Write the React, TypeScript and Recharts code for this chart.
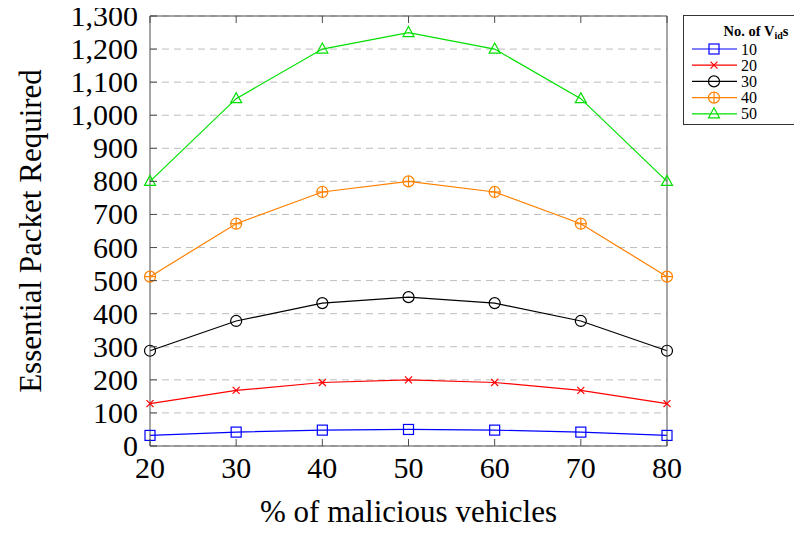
import React from 'react';
import {
    LineChart,
    Line,
    XAxis,
    YAxis,
    CartesianGrid
} from 'recharts';

const percents = [20, 30, 40, 50, 60, 70, 80];
const vid10 = [32, 42, 48, 50, 48, 42, 32];
const vid20 = [128, 168, 192, 200, 192, 168, 128];
const vid30 = [288, 378, 432, 450, 432, 378, 288];
const vid40 = [512, 672, 768, 800, 768, 672, 512];
const vid50 = [800, 1050, 1200, 1250, 1200, 1050, 800];
const yTicks = [0, 100, 200, 300, 400, 500, 600, 700, 800, 900, 1000, 1100, 1200, 1300];

const chartData = percents.map((p, i) => ({
    p,
    v10: vid10[i],
    v20: vid20[i],
    v30: vid30[i],
    v40: vid40[i],
    v50: vid50[i],
}));

const FONT = '"Liberation Serif", "DejaVu Serif", serif';
const AXIS = '#4d4d4d';

type Kind = 'square' | 'cross' | 'circle' | 'oplus' | 'triangle';

const series: { key: string; name: string; color: string; kind: Kind }[] = [
    { key: 'v10', name: '10', color: '#0000ff', kind: 'square' },
    { key: 'v20', name: '20', color: '#ff0000', kind: 'cross' },
    { key: 'v30', name: '30', color: '#000000', kind: 'circle' },
    { key: 'v40', name: '40', color: '#ff8000', kind: 'oplus' },
    { key: 'v50', name: '50', color: '#00e000', kind: 'triangle' },
];

const Marker = ({ cx, cy, color, kind }: { cx: number; cy: number; color: string; kind: Kind }) => {
    const sw = 1.2;
    if (kind === 'square') {
        return <rect x={cx - 5} y={cy - 5} width={10} height={10} fill="none" stroke={color} strokeWidth={sw} />;
    }
    if (kind === 'cross') {
        return (
            <g stroke={color} strokeWidth={sw}>
                <line x1={cx - 3.5} y1={cy - 3.5} x2={cx + 3.5} y2={cy + 3.5} />
                <line x1={cx - 3.5} y1={cy + 3.5} x2={cx + 3.5} y2={cy - 3.5} />
            </g>
        );
    }
    if (kind === 'circle') {
        return <circle cx={cx} cy={cy} r={5.5} fill="none" stroke={color} strokeWidth={sw} />;
    }
    if (kind === 'oplus') {
        return (
            <g stroke={color} strokeWidth={sw} fill="none">
                <circle cx={cx} cy={cy} r={5.5} />
                <line x1={cx - 5.5} y1={cy} x2={cx + 5.5} y2={cy} />
                <line x1={cx} y1={cy - 5.5} x2={cx} y2={cy + 5.5} />
            </g>
        );
    }
    return (
        <polygon
            points={`${cx},${cy - 6} ${cx - 5.5},${cy + 4} ${cx + 5.5},${cy + 4}`}
            fill="none"
            stroke={color}
            strokeWidth={sw}
        />
    );
};

const BottomTick = (props: any) => {
    const { x, y, payload } = props;
    return (
        <g>
            <line x1={x} y1={y} x2={x} y2={y - 7} stroke={AXIS} strokeWidth={1} />
            <text x={x} y={y + 32} textAnchor="middle" fontSize={30} fontFamily={FONT} fill="#000">
                {payload.value}
            </text>
        </g>
    );
};

const TopTick = (props: any) => {
    const { x, y } = props;
    return <line x1={x} y1={y} x2={x} y2={y + 7} stroke={AXIS} strokeWidth={1} />;
};

const LeftTick = (props: any) => {
    const { x, y, payload } = props;
    return (
        <g>
            <line x1={x} y1={y} x2={x + 7} y2={y} stroke={AXIS} strokeWidth={1} />
            <text x={x - 12} y={y + 10} textAnchor="end" fontSize={30} fontFamily={FONT} fill="#000">
                {payload.value.toLocaleString('en-US')}
            </text>
        </g>
    );
};

const RightTick = (props: any) => {
    const { x, y } = props;
    return <line x1={x} y1={y} x2={x - 7} y2={y} stroke={AXIS} strokeWidth={1} />;
};

const LegendBox = () => (
    <div
        style={{
            position: 'absolute',
            left: 683,
            top: 15,
            border: '1px solid #333',
            background: '#fff',
            width: 124,
            height: 110,
            boxSizing: 'border-box',
            fontFamily: FONT,
        }}
    >
        <svg width={124} height={108}>
            <text x={72} y={20} textAnchor="middle" fontSize={14.5} fontWeight="bold" fontFamily={FONT}>
                No. of V<tspan fontSize={10} dy={3}>id</tspan>
                <tspan dy={-3}>s</tspan>
            </text>
            {series.map((s, i) => {
                const cy = 33 + i * 16.2;
                return (
                    <g key={s.key}>
                        <line x1={8} y1={cy} x2={53} y2={cy} stroke={s.color} strokeWidth={1.2} />
                        <Marker cx={30} cy={cy} color={s.color} kind={s.kind} />
                        <text x={57} y={cy + 5.5} fontSize={16} fontFamily={FONT} fill="#000">
                            {s.name}
                        </text>
                    </g>
                );
            })}
        </svg>
    </div>
);

export default function App() {
    return (
        <div style={{ width: 802, height: 534, margin: -8, position: 'relative', fontFamily: FONT, overflow: 'hidden' }}>
            <LineChart
                width={802}
                height={534}
                data={chartData}
                margin={{ top: 15, right: 134, left: 149, bottom: 87 }}
                style={{ overflow: 'visible' }}
            >
                <CartesianGrid
                    vertical={false}
                    horizontal
                    stroke="#bdbdbd"
                    strokeDasharray="7 5"
                    yAxisId="left"
                    xAxisId="bottom"
                />
                <XAxis
                    xAxisId="bottom"
                    dataKey="p"
                    type="number"
                    domain={[20, 80]}
                    ticks={percents}
                    height={1}
                    tickSize={0}
                    tickMargin={0}
                    tick={<BottomTick />}
                    stroke={AXIS}
                    interval={0}
                />
                <XAxis
                    xAxisId="top"
                    orientation="top"
                    dataKey="p"
                    type="number"
                    domain={[20, 80]}
                    ticks={percents}
                    height={1}
                    tickSize={0}
                    tickMargin={0}
                    tick={<TopTick />}
                    stroke={AXIS}
                    interval={0}
                />
                <YAxis
                    yAxisId="left"
                    domain={[0, 1300]}
                    ticks={yTicks}
                    width={1}
                    tickSize={0}
                    tickMargin={0}
                    tick={<LeftTick />}
                    stroke={AXIS}
                    interval={0}
                />
                <YAxis
                    yAxisId="right"
                    orientation="right"
                    domain={[0, 1300]}
                    ticks={yTicks}
                    width={1}
                    tickSize={0}
                    tickMargin={0}
                    tick={<RightTick />}
                    stroke={AXIS}
                    interval={0}
                />
                {series.map((s) => (
                    <Line
                        key={s.key}
                        xAxisId="bottom"
                        yAxisId="left"
                        dataKey={s.key}
                        name={s.name}
                        type="linear"
                        stroke={s.color}
                        strokeWidth={1.2}
                        isAnimationActive={false}
                        dot={(p: any) => (
                            <Marker key={`${s.key}-${p.index}`} cx={p.cx} cy={p.cy} color={s.color} kind={s.kind} />
                        )}
                        activeDot={false}
                    />
                ))}
            </LineChart>
            <LegendBox />
            <div
                style={{
                    position: 'absolute',
                    left: 150,
                    width: 517,
                    top: 494,
                    textAlign: 'center',
                    fontSize: 31,
                    lineHeight: '36px',
                    fontFamily: FONT,
                }}
            >
                % of malicious vehicles
            </div>
            <div
                style={{
                    position: 'absolute',
                    left: 31 - 215,
                    top: 231 - 18,
                    width: 430,
                    height: 36,
                    textAlign: 'center',
                    fontSize: 31,
                    lineHeight: '36px',
                    fontFamily: FONT,
                    transform: 'rotate(-90deg)',
                }}
            >
                Essential Packet Required
            </div>
        </div>
    );
}
